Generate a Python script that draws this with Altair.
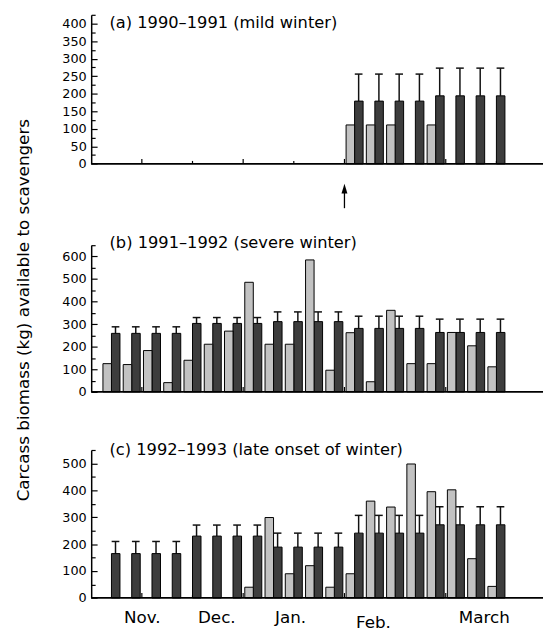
import altair as alt
import pandas as pd

# ---------------- data ----------------
weeks = list(range(1, 21))

light_a = [None, None, None, None, None, None, None, None, None, None, None, None,
           111, 111, 111, None, 111, None, None, None]
dark_a = [None, None, None, None, None, None, None, None, None, None, None, None,
          179, 179, 179, 179, 194, 194, 194, 194]
err_a = [None, None, None, None, None, None, None, None, None, None, None, None,
         256, 256, 256, 256, 273, 273, 273, 273]

light_b = [125, 121, 183, 41, 140, 211, 269, 485, 211, 211,
           584, 96, 262, 45, 361, 125, 125, 263, 204, 111]
dark_b = [259, 259, 259, 259, 303, 303, 303, 303, 311, 311,
          311, 311, 281, 281, 281, 281, 263, 263, 263, 263]
err_b = [288, 288, 288, 288, 329, 329, 329, 329, 354, 354,
         354, 354, 335, 335, 335, 335, 322, 322, 322, 322]

light_c = [None, None, None, None, None, None, None, 40, 299, 90,
           120, 40, 90, 360, 338, 498, 395, 402, 146, 43]
dark_c = [165, 165, 165, 165, 230, 230, 230, 230, 189, 189,
          189, 189, 241, 241, 241, 241, 272, 272, 272, 272]
err_c = [210, 210, 210, 210, 271, 271, 271, 271, 241, 241,
         241, 241, 307, 307, 307, 307, 339, 339, 339, 339]

titles = ["(a) 1990\u20131991 (mild winter)",
          "(b) 1991\u20131992 (severe winter)",
          "(c) 1992\u20131993 (late onset of winter)"]
y_title = "Carcass biomass (kg) available to scavengers"

months = ["Nov.", "Dec.", "Jan.", "Feb.", "March"]
month_pos = [2.52, 6.2, 9.84, 13.93, 19.4]
month_ticks = [2.5, 7.5, 12.5, 17.5]
minor_x_ticks = [5, 10, 15, 20]
arrow_week = [12.5]

labels_a = [0, 50, 100, 150, 200, 250, 300, 350, 400]
ticks_a = [0, 25, 50, 75, 100, 125, 150, 175, 200, 225, 250, 275, 300, 325, 350, 375, 400, 425]
labels_b = [0, 100, 200, 300, 400, 500, 600]
ticks_b = [0, 50, 100, 150, 200, 250, 300, 350, 400, 450, 500, 550, 600, 650]
labels_c = [0, 100, 200, 300, 400, 500]
ticks_c = [0, 50, 100, 150, 200, 250, 300, 350, 400, 450, 500, 550]

# ---------------- styling ----------------
FONT = "DejaVu Sans"
DARK = "#3d3d3d"
LIGHT = "#c2c2c2"
W = 458.9
XMAX = 22.3
xs = alt.Scale(domain=[0, XMAX], nice=False, zero=False)


def panel(light, dark, err, ymax, H, ytop, lab_vals, tick_vals, major,
          title, title_base, extras):
    df = pd.DataFrame({"week": weeks, "light": light, "dark": dark, "err": err})
    base = alt.Chart(df).transform_calculate(
        l0="datum.week - 0.42", l1="datum.week",
        d0="datum.week", d1="datum.week + 0.42",
        ex="datum.week + 0.2", c0="datum.week + 0.01", c1="datum.week + 0.39",
    )
    ys = alt.Scale(domain=[0, ymax], range=[H, ytop], nice=False, zero=False)

    left_axis = alt.Axis(orient="left", values=lab_vals, ticks=False, tickSize=0,
                         labelFontSize=13, labelPadding=5, labelColor="black",
                         labelFont=FONT, labelFlush=False, labelOverlap=False,
                         domain=True, domainColor="black", domainWidth=1.5,
                         grid=False, title=None)
    tick_axis = alt.Axis(orient="right", offset=-W, values=tick_vals, labels=False,
                         domain=False, ticks=True, tickColor="black", tickWidth=1.2,
                         tickSize={"condition": {"test": f"datum.value % {major} !== 0",
                                                 "value": 4}, "value": 6},
                         grid=False, title=None)
    x_axis = alt.Axis(orient="bottom", labels=False, ticks=False, tickSize=0,
                      domain=True, domainColor="black", domainWidth=1.8,
                      grid=False, title=None)

    dark_bars = base.transform_filter("isValid(datum.dark)").mark_rect(
        color=DARK, stroke="black", strokeWidth=1).encode(
        x=alt.X("d0:Q", scale=xs, axis=x_axis), x2="d1:Q",
        y=alt.Y("dark:Q", scale=ys, axis=left_axis), y2=alt.datum(0))
    light_bars = base.transform_filter("isValid(datum.light)").mark_rect(
        color=LIGHT, stroke="black", strokeWidth=1).encode(
        x=alt.X("l0:Q", scale=xs, axis=None), x2="l1:Q",
        y=alt.Y("light:Q", scale=ys, axis=tick_axis), y2=alt.datum(0))
    err_line = base.transform_filter("isValid(datum.err)").mark_rule(
        color="#111111", strokeWidth=1.5).encode(
        x=alt.X("ex:Q", scale=xs, axis=None),
        y=alt.Y("dark:Q", scale=ys, axis=None), y2="err:Q")
    err_cap = base.transform_filter("isValid(datum.err)").mark_rule(
        color="#111111", strokeWidth=1.5).encode(
        x=alt.X("c0:Q", scale=xs, axis=None), x2="c1:Q",
        y=alt.Y("err:Q", scale=ys, axis=None))
    # inward x ticks: month boundaries (longer) and mid-month (shorter)
    maj = alt.Chart(pd.DataFrame({"t": month_ticks})).mark_rule(
        color="black", strokeWidth=1.2).encode(
        x=alt.X("t:Q", scale=xs, axis=None), y=alt.value(H), y2=alt.value(H - 5))
    mnr = alt.Chart(pd.DataFrame({"t": minor_x_ticks})).mark_rule(
        color="black", strokeWidth=1.2).encode(
        x=alt.X("t:Q", scale=xs, axis=None), y=alt.value(H), y2=alt.value(H - 3))
    base_line = alt.Chart(pd.DataFrame({"z": [0]})).mark_rule(
        color="black", strokeWidth=1.8).encode(
        x=alt.datum(0, scale=xs), x2=alt.datum(XMAX),
        y=alt.Y("z:Q", scale=ys, axis=None))
    ttl = alt.Chart(pd.DataFrame({"t": [title]})).mark_text(
        align="left", baseline="alphabetic", fontSize=16.5, font=FONT, color="black"
    ).encode(x=alt.value(18.6), y=alt.value(title_base), text="t:N")

    layers = [maj, mnr, err_line, err_cap, dark_bars, light_bars, base_line, ttl] + extras(H)
    return alt.layer(*layers).properties(width=W, height=H)


def extras_a(H):
    adf = pd.DataFrame({"week": arrow_week})
    shaft = alt.Chart(adf).mark_rule(color="black", strokeWidth=1.3).encode(
        x=alt.X("week:Q", scale=xs, axis=None),
        y=alt.value(H + 28), y2=alt.value(H + 45))
    head = alt.Chart(adf).mark_point(shape="M0,-1L0.6,1L-0.6,1Z", filled=True,
                                     size=100, color="black", opacity=1).encode(
        x=alt.X("week:Q", scale=xs, axis=None), y=alt.value(H + 25.2))
    return [shaft, head]


def extras_b(H):
    t = alt.Chart(pd.DataFrame({"t": [y_title]})).mark_text(
        angle=270, align="center", baseline="alphabetic", fontSize=17, font=FONT,
        color="black").encode(x=alt.value(-63.4), y=alt.value(89), text="t:N")
    return [t]


def extras_c(H):
    mdf = pd.DataFrame({"m": months, "pos": month_pos})
    normal = alt.Chart(mdf).transform_filter("datum.m !== 'Feb.'").mark_text(
        align="center", baseline="alphabetic", fontSize=17, font=FONT, color="black"
    ).encode(x=alt.X("pos:Q", scale=xs, axis=None), y=alt.value(H + 25.6), text="m:N")
    feb = alt.Chart(mdf).transform_filter("datum.m === 'Feb.'").mark_text(
        align="center", baseline="alphabetic", fontSize=17, font=FONT, color="black"
    ).encode(x=alt.X("pos:Q", scale=xs, axis=None), y=alt.value(H + 30), text="m:N")
    return [normal, feb]


pa = panel(light_a, dark_a, err_a, 425, 151.4, 0, labels_a, ticks_a, 50,
           titles[0], 13.2, extras_a)
pb = panel(light_b, dark_b, err_b, 650, 172, 22.8, labels_b, ticks_b, 100,
           titles[1], 26.2, extras_b)
pc = panel(light_c, dark_c, err_c, 550, 150.3, 0, labels_c, ticks_c, 100,
           titles[2], 4.6, extras_c)

chart = alt.vconcat(pa, pb, pc, spacing=59, bounds="flush").properties(
    padding={"left": 6.5, "top": 1, "right": 0, "bottom": 0}
).configure(font=FONT).configure_view(stroke=None)

chart.save("out.html", embed_options={"renderer": "svg", "actions": False})
